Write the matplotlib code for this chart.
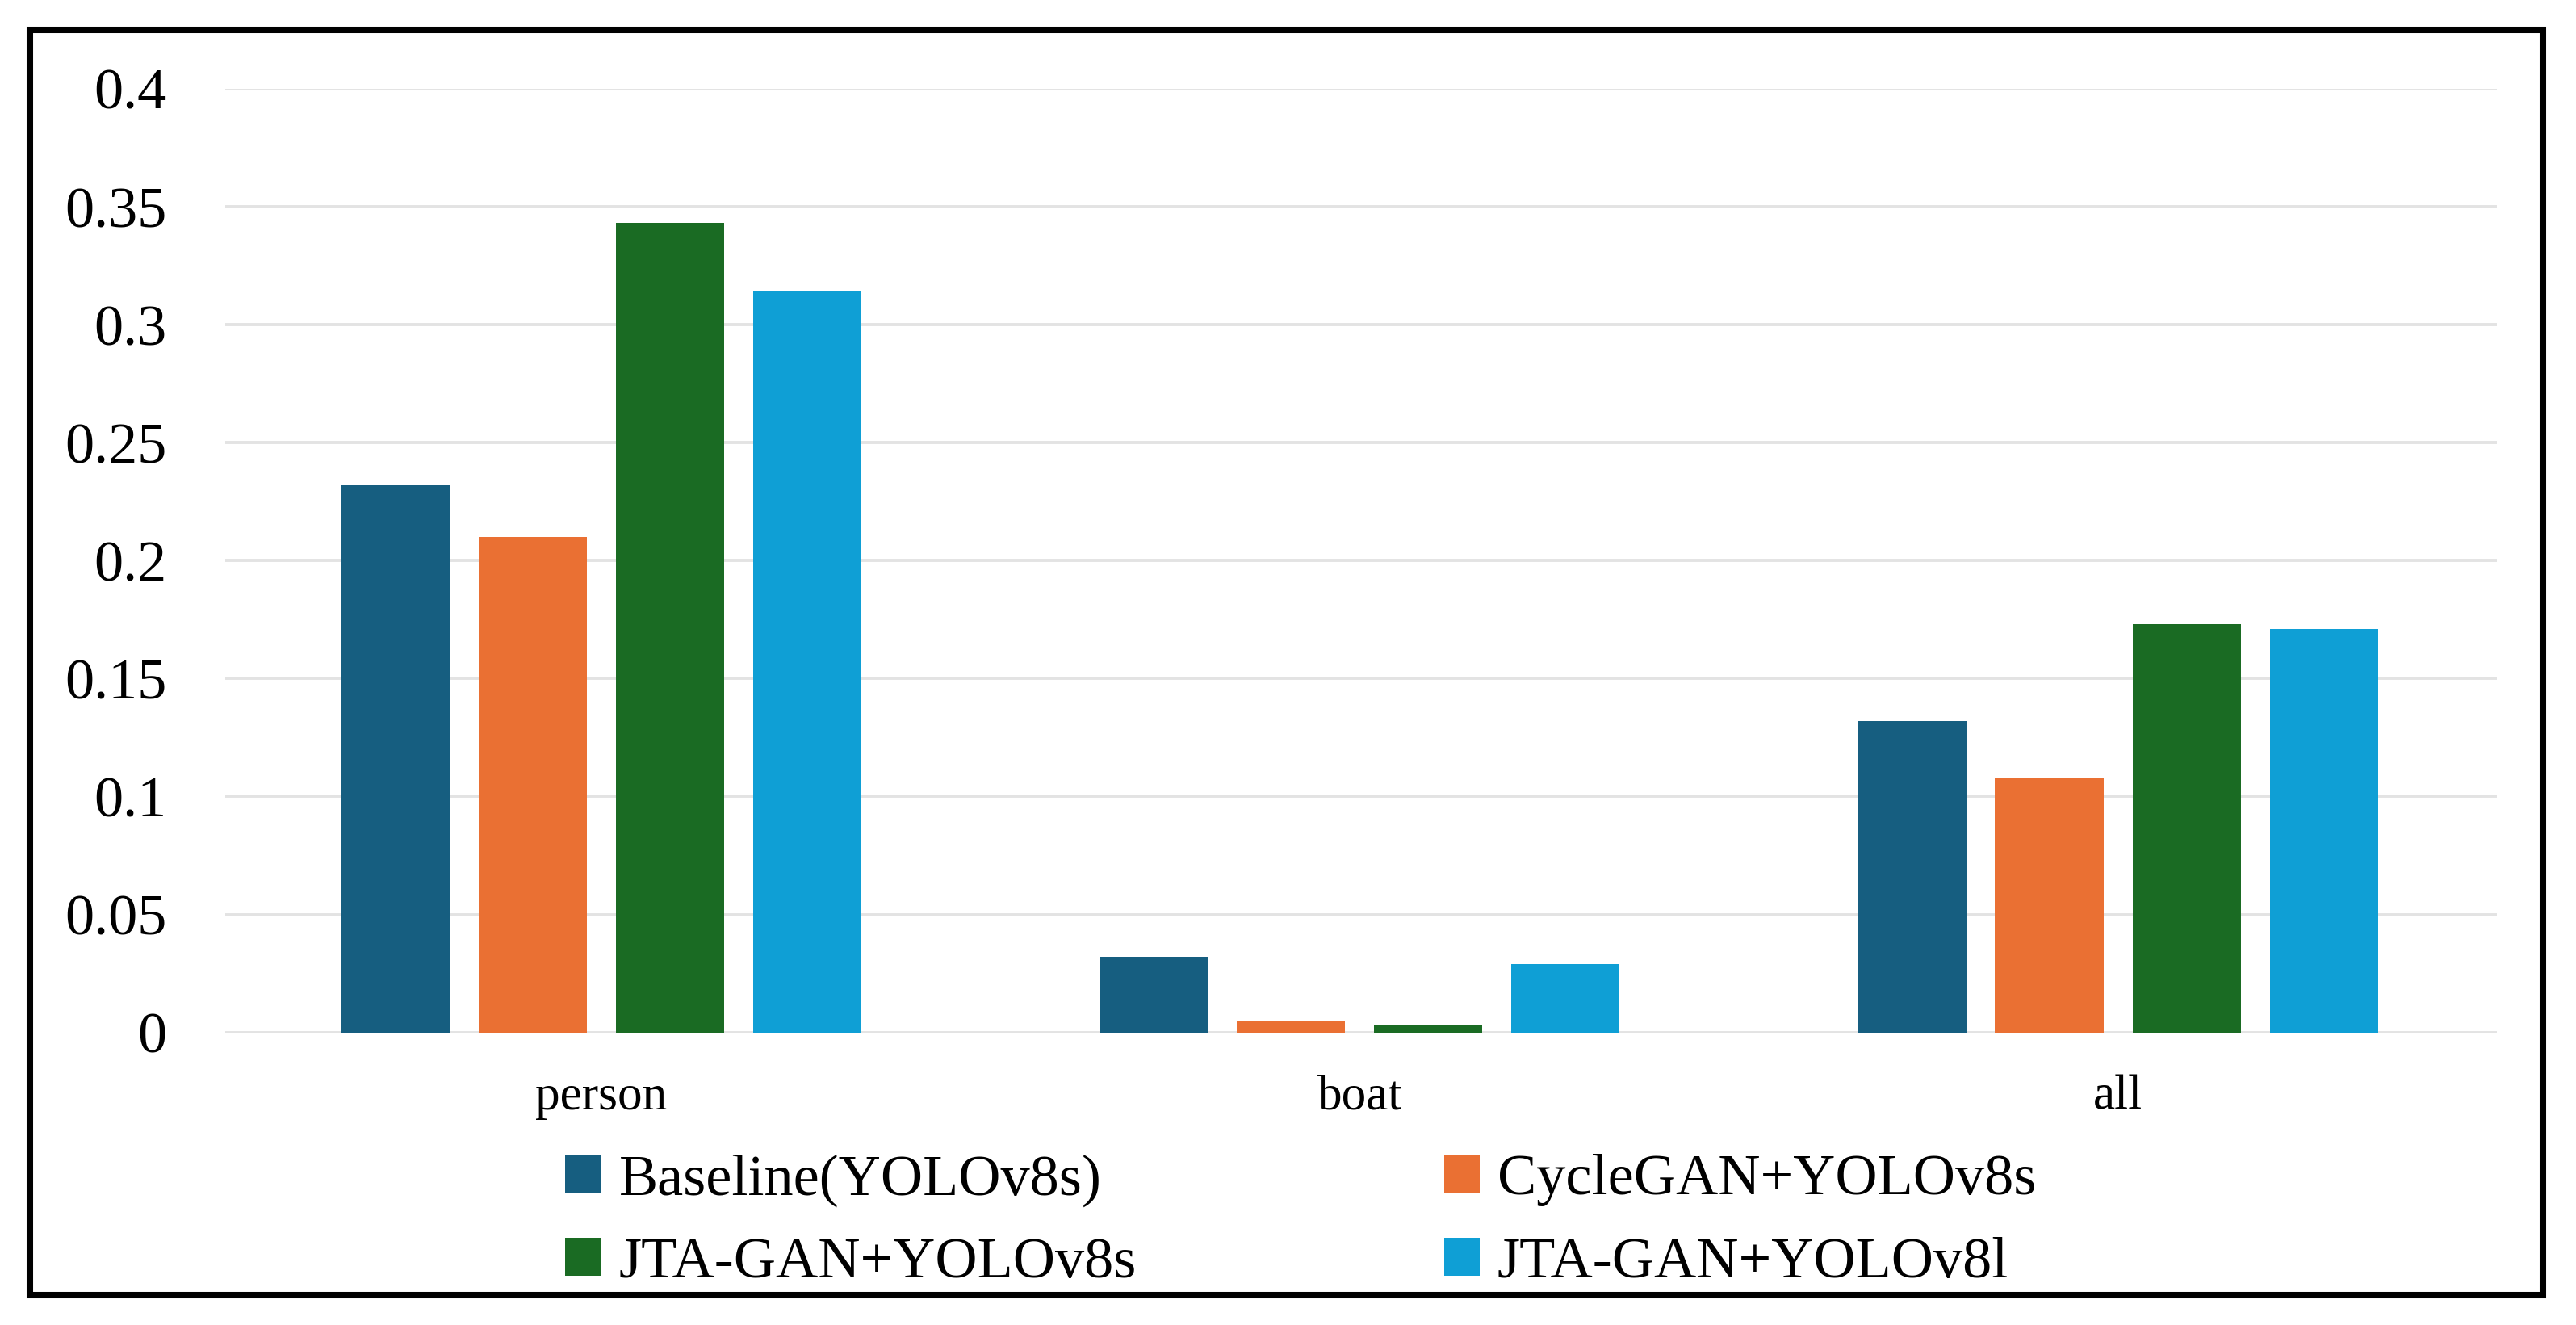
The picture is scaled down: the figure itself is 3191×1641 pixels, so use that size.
import matplotlib
matplotlib.use("Agg")
import matplotlib.pyplot as plt
import numpy as np
from matplotlib.patches import Rectangle, Patch

categories = ["person", "boat", "all"]
series_names = ["Baseline(YOLOv8s)", "CycleGAN+YOLOv8s", "JTA-GAN+YOLOv8s", "JTA-GAN+YOLOv8l"]
baseline = [0.232, 0.032, 0.132]
cyclegan = [0.210, 0.005, 0.108]
jta_v8s = [0.343, 0.003, 0.173]
jta_v8l = [0.314, 0.029, 0.171]
yticks = [0, 0.05, 0.1, 0.15, 0.2, 0.25, 0.3, 0.35, 0.4]
ytick_labels = ["0", "0.05", "0.1", "0.15", "0.2", "0.25", "0.3", "0.35", "0.4"]

colors = ["#165E80", "#EA7033", "#1A6B23", "#0F9FD5"]
series = [baseline, cyclegan, jta_v8s, jta_v8l]

plt.rcParams['font.family'] = ['Liberation Serif', 'DejaVu Serif']

fig = plt.figure(figsize=(15.955, 8.205), dpi=200)
ax = fig.add_axes([0.0874, 0.2208, 0.882, 0.7122])

x = np.arange(len(categories))
step = 0.181
width = 0.143
for i, (vals, c) in enumerate(zip(series, colors)):
    ax.bar(x + (i - 1.5) * step, vals, width=width, color=c, zorder=3)

ax.set_xlim(-0.496, 2.5)
ax.set_ylim(0, 0.4)
ax.set_yticks(yticks)
ax.set_yticklabels(ytick_labels)
ax.set_xticks(x)
ax.set_xticklabels(categories)
ax.tick_params(axis='y', length=0, pad=26, labelsize=26)
ax.tick_params(axis='x', length=0, pad=19, labelsize=22)
for s in ax.spines.values():
    s.set_visible(False)
ax.grid(axis='y', color='#E3E3E3', linewidth=1.4, zorder=0)
ax.set_axisbelow(True)
ax.set_facecolor('none')

handles = [Patch(facecolor=c, edgecolor='none') for c in colors]
common = dict(loc='upper left', frameon=False, fontsize=26, handlelength=0.62,
              handleheight=0.62, handletextpad=0.3, labelspacing=0.52,
              borderpad=0, borderaxespad=0)
leg1 = fig.legend([handles[0], handles[2]], [series_names[0], series_names[2]],
                  bbox_to_anchor=(0.2195, 0.129), **common)
leg2 = fig.legend([handles[1], handles[3]], [series_names[1], series_names[3]],
                  bbox_to_anchor=(0.5605, 0.129), **common)

border = Rectangle((0.0115, 0.0223), 0.9758, 0.9553, transform=fig.transFigure,
                   fill=False, edgecolor='black', linewidth=2.9)
fig.add_artist(border)

fig.savefig("out.png", dpi=200, facecolor='white')
